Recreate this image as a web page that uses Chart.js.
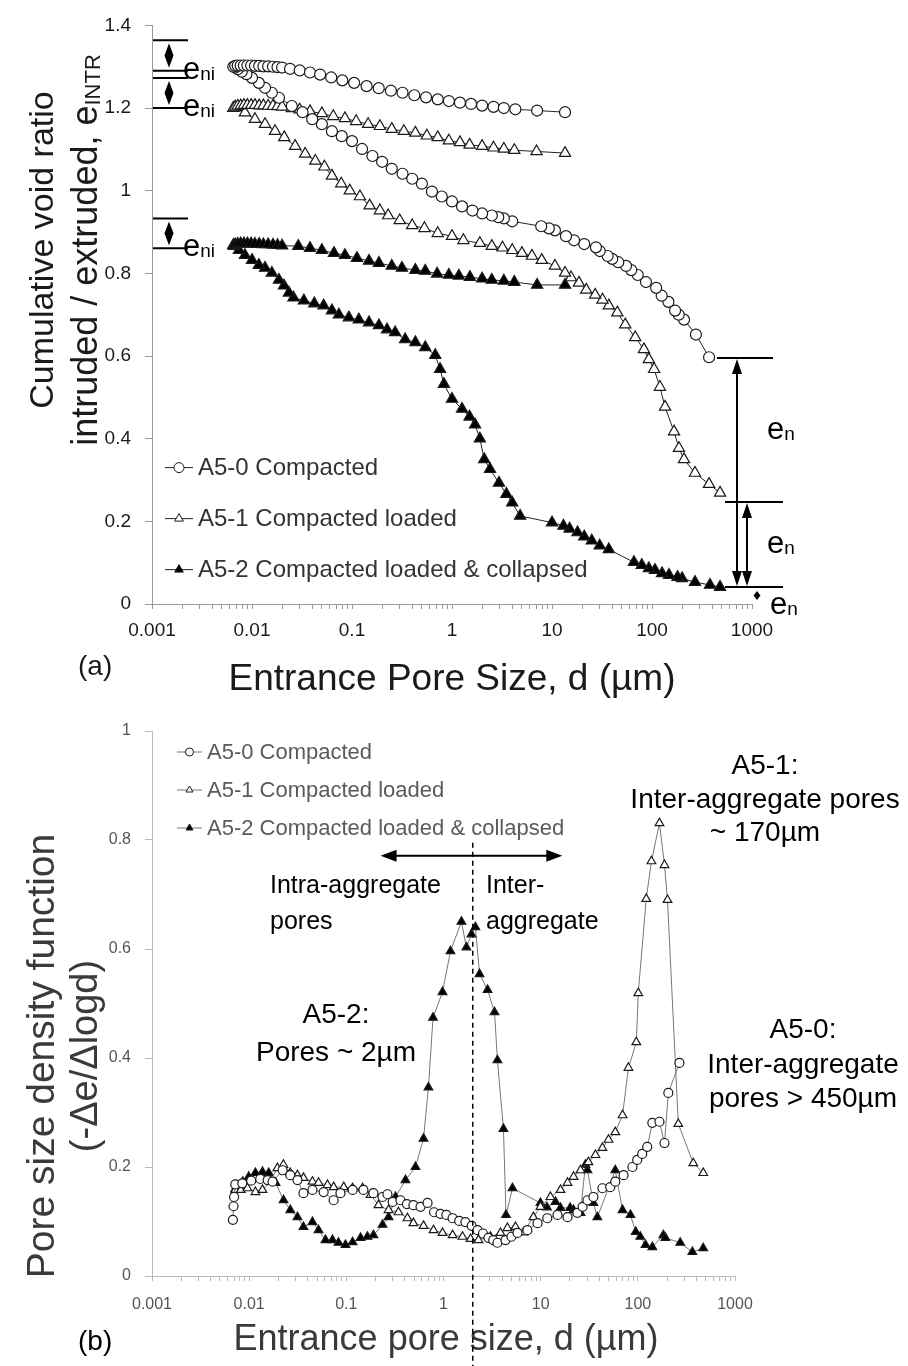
<!DOCTYPE html>
<html>
<head>
<meta charset="utf-8">
<script src="https://cdn.jsdelivr.net/npm/chart.js@4.4.1/dist/chart.umd.min.js"></script>
<style>
    body { margin: 0; background: #fff; }
    #wrap { position: relative; width: 908px; height: 1366px; overflow: hidden; }
    #topChart { position: absolute; left: 0; top: 0; }
    #bottomChart { position: absolute; left: 0; top: 700px; filter: blur(0.5px); }
    #bottomNotes { position: absolute; left: 0; top: 700px; pointer-events: none; }
</style>
</head>
<body>
<div id="wrap">
    <canvas id="topChart" width="908" height="700"></canvas>
    <canvas id="bottomChart" width="908" height="666"></canvas>
    <canvas id="bottomNotes" width="908" height="666"></canvas>
</div>
<script>
const FONT = '"Liberation Sans", Arial, sans-serif';

const seriesNames = ['A5-0 Compacted', 'A5-1 Compacted loaded', 'A5-2 Compacted loaded & collapsed'];
const decadeTicks = [0.001, 0.01, 0.1, 1, 10, 100, 1000];
const decadeLabels = ['0.001', '0.01', '0.1', '1', '10', '100', '1000'];
const voidTicks = [0, 0.2, 0.4, 0.6, 0.8, 1, 1.2, 1.4];
const voidLabels = ['0', '0.2', '0.4', '0.6', '0.8', '1', '1.2', '1.4'];
const densityTicks = [0, 0.2, 0.4, 0.6, 0.8, 1];
const densityLabels = ['0', '0.2', '0.4', '0.6', '0.8', '1'];

// (a) cumulative void ratio: intrusion (large d -> small d), then extrusion back out
const a50D = [372, 275, 209, 185, 170, 146, 125, 110, 87, 72, 62, 55, 46, 40, 36, 30, 27.5, 21, 16.6, 13.8, 10.7, 9.3, 7.8,
    4.0, 3.3, 2.9, 2.5, 2.0, 1.6, 1.26, 1.0, 0.79, 0.63, 0.5, 0.4, 0.32, 0.25, 0.2, 0.16, 0.126, 0.1, 0.079, 0.063, 0.05,
    0.04, 0.032, 0.025, 0.0186, 0.0158, 0.0135, 0.0117, 0.01, 0.0088, 0.0079, 0.0072, 0.0068, 0.0065,
    0.0068, 0.0072, 0.0077, 0.0083, 0.009, 0.0098, 0.0107, 0.0118, 0.013, 0.0145, 0.0162, 0.018, 0.02, 0.024, 0.03,
    0.038, 0.048, 0.062, 0.08, 0.105, 0.14, 0.185, 0.245, 0.32, 0.42, 0.55, 0.72, 0.93, 1.2, 1.55, 2.0, 2.6, 3.3, 4.3, 7.1, 13.5];
const a50E = [0.597, 0.652, 0.688, 0.700, 0.710, 0.731, 0.746, 0.765, 0.779, 0.796, 0.808, 0.818, 0.827, 0.835, 0.842, 0.854,
    0.863, 0.871, 0.880, 0.890, 0.904, 0.909, 0.914, 0.926, 0.933, 0.936, 0.940, 0.945, 0.952, 0.962, 0.974, 0.986, 0.998,
    1.017, 1.029, 1.041, 1.053, 1.070, 1.084, 1.101, 1.120, 1.132, 1.144, 1.161, 1.173, 1.190, 1.205, 1.225, 1.237, 1.249,
    1.261, 1.273, 1.282, 1.288, 1.294, 1.298, 1.300,
    1.302, 1.303, 1.303, 1.303, 1.303, 1.303, 1.302, 1.302, 1.301, 1.301, 1.300, 1.299, 1.298, 1.295, 1.291, 1.286, 1.281,
    1.274, 1.267, 1.261, 1.253, 1.248, 1.242, 1.237, 1.231, 1.226, 1.221, 1.217, 1.213, 1.210, 1.206, 1.203, 1.200, 1.197,
    1.194, 1.190];

const a51D = [479, 372, 269, 209, 186, 166, 135, 120, 105, 93, 83, 68, 54, 45, 37, 32, 27, 22, 18.6, 15.5, 13.5, 10.7, 7.9,
    6.3, 5.0, 4.0, 3.2, 2.5, 1.9, 1.3, 1.0, 0.72, 0.53, 0.4, 0.3, 0.23, 0.19, 0.15, 0.12, 0.095, 0.078, 0.063, 0.053, 0.043,
    0.034, 0.027, 0.021, 0.017, 0.0135, 0.0107, 0.0085, 0.0068, 0.0065,
    0.0068, 0.0072, 0.0077, 0.0083, 0.009, 0.0098, 0.0107, 0.0118, 0.013, 0.0145, 0.0162, 0.018, 0.02, 0.025, 0.03, 0.038,
    0.05, 0.065, 0.085, 0.11, 0.145, 0.19, 0.25, 0.33, 0.43, 0.56, 0.72, 0.93, 1.2, 1.5, 2.0, 2.6, 3.3, 4.2, 7.0, 13.5];
const a51E = [0.269, 0.290, 0.317, 0.350, 0.377, 0.417, 0.477, 0.525, 0.568, 0.592, 0.616, 0.645, 0.676, 0.705, 0.722, 0.736,
    0.748, 0.760, 0.777, 0.790, 0.801, 0.818, 0.832, 0.842, 0.849, 0.856, 0.862, 0.866, 0.873, 0.880, 0.890, 0.897, 0.909,
    0.916, 0.928, 0.940, 0.952, 0.964, 0.986, 1.000, 1.017, 1.036, 1.058, 1.072, 1.089, 1.108, 1.129, 1.144, 1.161, 1.173,
    1.189, 1.201, 1.200,
    1.203, 1.205, 1.206, 1.207, 1.207, 1.207, 1.207, 1.206, 1.206, 1.205, 1.205, 1.204, 1.203, 1.199, 1.196, 1.192, 1.187,
    1.180, 1.175, 1.168, 1.161, 1.156, 1.149, 1.144, 1.140, 1.133, 1.129, 1.121, 1.117, 1.111, 1.108, 1.104, 1.101, 1.098,
    1.095, 1.091];

const a52D = [479, 380, 269, 200, 180, 148, 126, 107, 93, 79, 66, 37, 30, 25, 21, 18, 15, 13, 10, 4.8, 4.0, 3.5, 2.95, 2.4,
    2.1, 1.9, 1.7, 1.5, 1.26, 1.0, 0.83, 0.76, 0.68, 0.54, 0.43, 0.34, 0.27, 0.224, 0.186, 0.148, 0.117, 0.093, 0.074, 0.063,
    0.052, 0.042, 0.033, 0.026, 0.0234, 0.0209, 0.0186, 0.0158, 0.0135, 0.0117, 0.01, 0.0085, 0.0074, 0.0066, 0.0065,
    0.0068, 0.0072, 0.0077, 0.0083, 0.009, 0.0098, 0.0107, 0.0118, 0.013, 0.0145, 0.0162, 0.018, 0.02, 0.029, 0.038, 0.05,
    0.066, 0.085, 0.112, 0.148, 0.186, 0.25, 0.316, 0.43, 0.54, 0.71, 0.93, 1.17, 1.51, 2.0, 2.5, 3.3, 4.2, 7.1, 13.5];
const a52E = [0.041, 0.046, 0.053, 0.062, 0.065, 0.070, 0.074, 0.082, 0.086, 0.094, 0.101, 0.132, 0.141, 0.153, 0.163, 0.173,
    0.182, 0.189, 0.197, 0.213, 0.245, 0.266, 0.293, 0.326, 0.350, 0.400, 0.434, 0.453, 0.472, 0.496, 0.532, 0.568, 0.602,
    0.621, 0.633, 0.640, 0.657, 0.664, 0.674, 0.681, 0.688, 0.693, 0.700, 0.710, 0.722, 0.727, 0.734, 0.741, 0.753, 0.770,
    0.784, 0.801, 0.813, 0.820, 0.832, 0.844, 0.856, 0.866, 0.868,
    0.870, 0.871, 0.872, 0.872, 0.872, 0.872, 0.871, 0.871, 0.870, 0.870, 0.869, 0.868, 0.867, 0.866, 0.861, 0.856, 0.849,
    0.844, 0.837, 0.830, 0.825, 0.818, 0.813, 0.808, 0.806, 0.799, 0.796, 0.794, 0.791, 0.787, 0.784, 0.782, 0.779, 0.772,
    0.772];

// (b) pore size density function
const b50D = [0.0068, 0.0069, 0.0070, 0.0072, 0.0085, 0.0105, 0.013, 0.0155, 0.0174, 0.0221, 0.0265, 0.0314, 0.0362, 0.0448,
    0.0584, 0.074, 0.087, 0.116, 0.150, 0.19, 0.236, 0.265, 0.30, 0.361, 0.42, 0.49, 0.58, 0.685, 0.80, 0.93, 1.07, 1.24,
    1.45, 1.68, 1.95, 2.24, 2.55, 2.9, 3.25, 3.59, 4.34, 5.0, 5.77, 7.3, 9.28, 11.7, 14.9, 18.9, 23.9, 27, 30.3, 34.9, 43.2,
    52, 58.6, 71.3, 88, 98.6, 111, 125, 141, 167, 188, 206, 268];
const b50E = [0.103, 0.128, 0.145, 0.168, 0.170, 0.175, 0.178, 0.176, 0.173, 0.194, 0.185, 0.176, 0.152, 0.158, 0.154, 0.139,
    0.152, 0.158, 0.158, 0.152, 0.145, 0.150, 0.136, 0.139, 0.132, 0.130, 0.127, 0.134, 0.117, 0.114, 0.112, 0.106, 0.101,
    0.099, 0.092, 0.084, 0.078, 0.070, 0.066, 0.061, 0.066, 0.072, 0.079, 0.084, 0.097, 0.106, 0.112, 0.108, 0.116, 0.127,
    0.139, 0.145, 0.161, 0.163, 0.173, 0.185, 0.200, 0.213, 0.224, 0.237, 0.281, 0.283, 0.244, 0.336, 0.391];

const b51D = [0.0072, 0.0082, 0.0096, 0.0116, 0.0137, 0.0166, 0.0195, 0.0225, 0.0265, 0.0314, 0.0362, 0.0448, 0.0518, 0.064,
    0.074, 0.094, 0.116, 0.147, 0.178, 0.214, 0.272, 0.344, 0.426, 0.49, 0.623, 0.789, 0.977, 1.24, 1.57, 1.9, 2.29, 3.04,
    3.86, 4.55, 5.5, 6.66, 8.42, 9.95, 12.6, 16, 18.9, 21.8, 25.7, 31, 36.6, 43.2, 49.9, 58.6, 69.6, 80, 96.5, 101, 122, 138,
    167, 188, 202, 261, 372, 471];
const b51E = [0.158, 0.158, 0.161, 0.154, 0.158, 0.173, 0.198, 0.204, 0.189, 0.185, 0.180, 0.173, 0.171, 0.167, 0.163, 0.163,
    0.161, 0.161, 0.149, 0.130, 0.121, 0.117, 0.106, 0.097, 0.092, 0.084, 0.079, 0.075, 0.072, 0.068, 0.066, 0.072, 0.079,
    0.088, 0.090, 0.080, 0.108, 0.127, 0.145, 0.158, 0.171, 0.182, 0.194, 0.209, 0.222, 0.235, 0.250, 0.264, 0.295, 0.382,
    0.429, 0.519, 0.692, 0.761, 0.831, 0.754, 0.690, 0.279, 0.207, 0.189];

const b52D = [0.0072, 0.0086, 0.0099, 0.0116, 0.0137, 0.0159, 0.0187, 0.0226, 0.0265, 0.0314, 0.0362, 0.0448, 0.0518, 0.061,
    0.072, 0.083, 0.098, 0.116, 0.140, 0.165, 0.19, 0.236, 0.272, 0.321, 0.406, 0.515, 0.623, 0.70, 0.78, 0.977, 1.18, 1.53,
    1.72, 1.94, 2.13, 2.35, 2.84, 3.35, 3.59, 4.14, 4.40, 5.13, 9.95, 11.6, 14.2, 16, 20.1, 21.8, 25.7, 28.9, 30.3, 34.9,
    38.3, 58.6, 69.6, 84, 95, 106, 120, 141, 183, 192, 273, 364, 471];
const b52E = [0.160, 0.173, 0.182, 0.189, 0.191, 0.189, 0.171, 0.139, 0.121, 0.108, 0.090, 0.099, 0.084, 0.066, 0.066, 0.061,
    0.057, 0.062, 0.070, 0.072, 0.075, 0.094, 0.108, 0.145, 0.176, 0.200, 0.252, 0.346, 0.474, 0.521, 0.596, 0.650, 0.603,
    0.627, 0.640, 0.554, 0.525, 0.484, 0.396, 0.270, 0.112, 0.161, 0.134, 0.126, 0.136, 0.125, 0.125, 0.121, 0.116, 0.204,
    0.194, 0.134, 0.108, 0.194, 0.121, 0.112, 0.081, 0.072, 0.057, 0.053, 0.075, 0.070, 0.061, 0.044, 0.051];

// e_ni brackets at the start of intrusion, e_n brackets at the end
const eniLevels = [[1.364, 1.290], [1.273, 1.200], [0.933, 0.861]];
const enLevels = [0.595, 0.247, 0.041];

function points(d, e) {
    return d.map(function (v, i) { return { x: v, y: e[i] }; });
}

function makeDataset(label, d, e, style, filled, radius, lineColor) {
    return {
        label: label,
        data: points(d, e),
        showLine: true,
        borderColor: lineColor,
        borderWidth: 1,
        pointStyle: style,
        pointRadius: radius,
        pointBorderWidth: 1.2,
        pointBorderColor: '#1a1a1a',
        pointBackgroundColor: filled ? '#000' : '#fff',
        pointHoverRadius: radius
    };
}

function logAxis(height, fontSize, color, lineColor, pad) {
    return {
        type: 'logarithmic',
        min: 0.001,
        max: 1000,
        afterBuildTicks: function (scale) {
            const ticks = [];
            decadeTicks.forEach(function (v, i) {
                if (i === decadeTicks.length - 1) {
                    ticks.push({ value: v });
                    return;
                }
                for (let m = 1; m < 10; m++) {
                    ticks.push({ value: +(v * m).toPrecision(3) });
                }
            });
            scale.ticks = ticks;
        },
        afterFit: function (scale) { scale.height = height; },
        ticks: {
            autoSkip: false,
            maxRotation: 0,
            padding: pad,
            color: color,
            font: { family: FONT, size: fontSize },
            callback: function (value) {
                const i = decadeTicks.indexOf(value);
                return i === -1 ? '' : decadeLabels[i];
            }
        },
        grid: { drawOnChartArea: false, tickLength: 5, color: lineColor },
        border: { color: lineColor, width: 1 }
    };
}

function linearAxis(max, tickValues, tickLabels, fontSize, color, lineColor) {
    return {
        min: 0,
        max: max,
        afterBuildTicks: function (scale) {
            scale.ticks = tickValues.map(function (v) { return { value: v }; });
        },
        afterFit: function (scale) { scale.width = 152; },
        ticks: {
            padding: 14,
            color: color,
            font: { family: FONT, size: fontSize },
            callback: function (value, index) { return tickLabels[index]; }
        },
        grid: { drawOnChartArea: false, tickLength: 7, color: lineColor },
        border: { color: lineColor, width: 1 }
    };
}

function drawMarker(ctx, style, x, y, r, fill, stroke) {
    ctx.beginPath();
    if (style === 'circle') {
        ctx.arc(x, y, r, 0, Math.PI * 2);
    } else {
        let rad = 0;
        ctx.moveTo(x + Math.sin(rad) * r, y - Math.cos(rad) * r);
        rad += Math.PI * 2 / 3;
        ctx.lineTo(x + Math.sin(rad) * r, y - Math.cos(rad) * r);
        rad += Math.PI * 2 / 3;
        ctx.lineTo(x + Math.sin(rad) * r, y - Math.cos(rad) * r);
        ctx.closePath();
    }
    ctx.fillStyle = fill;
    ctx.fill();
    ctx.lineWidth = 1;
    ctx.strokeStyle = stroke;
    ctx.stroke();
}

function drawLegend(ctx, chart, x, y, rowGap, lineLen, r, size, color) {
    chart.data.datasets.forEach(function (ds, i) {
        const cy = y + i * rowGap;
        ctx.strokeStyle = ds.borderColor;
        ctx.lineWidth = 1;
        ctx.beginPath();
        ctx.moveTo(x, cy);
        ctx.lineTo(x + lineLen, cy);
        ctx.stroke();
        drawMarker(ctx, ds.pointStyle, x + lineLen / 2, cy, r, ds.pointBackgroundColor, ds.pointBorderColor);
        ctx.fillStyle = color;
        ctx.font = size + 'px ' + FONT;
        ctx.textAlign = 'left';
        ctx.textBaseline = 'middle';
        ctx.fillText(ds.label, x + lineLen + 5, cy + 1);
    });
}

// text with a subscript tail, e.g. e_ni
function subText(ctx, x, y, main, sub, size, subSize, align, subDrop) {
    ctx.font = size + 'px ' + FONT;
    const w1 = ctx.measureText(main).width;
    ctx.font = subSize + 'px ' + FONT;
    const w2 = ctx.measureText(sub).width;
    const x0 = align === 'center' ? x - (w1 + w2) / 2 : x;
    ctx.textAlign = 'left';
    ctx.font = size + 'px ' + FONT;
    ctx.fillText(main, x0, y);
    ctx.font = subSize + 'px ' + FONT;
    ctx.fillText(sub, x0 + w1, y + subDrop);
}

function text(ctx, str, x, y, size, align, color) {
    ctx.font = size + 'px ' + FONT;
    ctx.textAlign = align;
    ctx.fillStyle = color;
    ctx.fillText(str, x, y);
}

function arrowHead(ctx, x, y, dx, dy, len, half) {
    // tip at (x, y), pointing along (dx, dy)
    ctx.beginPath();
    ctx.moveTo(x, y);
    ctx.lineTo(x - dx * len - dy * half, y - dy * len + dx * half);
    ctx.lineTo(x - dx * len + dy * half, y - dy * len - dx * half);
    ctx.closePath();
    ctx.fill();
}

function diamond(ctx, x, yTop, yBottom, half) {
    const mid = (yTop + yBottom) / 2;
    ctx.beginPath();
    ctx.moveTo(x, yTop);
    ctx.lineTo(x + half, mid);
    ctx.lineTo(x, yBottom);
    ctx.lineTo(x - half, mid);
    ctx.closePath();
    ctx.fill();
}

function hLine(ctx, x1, x2, y) {
    ctx.beginPath();
    ctx.moveTo(x1, y);
    ctx.lineTo(x2, y);
    ctx.stroke();
}

const topNotes = {
    id: 'topNotes',
    afterDraw: function (chart) {
        const ctx = chart.ctx;
        const ys = chart.scales.y;
        const area = chart.chartArea;
        ctx.save();

        drawLegend(ctx, chart, area.left + 13, ys.getPixelForValue(0.33), 51, 28, 5, 24, '#333');

        ctx.fillStyle = '#000';
        ctx.strokeStyle = '#000';
        ctx.lineWidth = 2;
        ctx.textBaseline = 'alphabetic';
        eniLevels.forEach(function (pair) {
            const yTop = ys.getPixelForValue(pair[0]);
            const yBot = ys.getPixelForValue(pair[1]);
            hLine(ctx, area.left + 1, area.left + 36, yTop);
            hLine(ctx, area.left + 1, area.left + 36, yBot);
            diamond(ctx, area.left + 17, yTop + 3, yBot - 3, 4.5);
            subText(ctx, area.left + 31, yBot + 8, 'e', 'ni', 31, 19, 'left', 1);
        });

        const yA = ys.getPixelForValue(enLevels[0]);
        const yB = ys.getPixelForValue(enLevels[1]);
        const yC = ys.getPixelForValue(enLevels[2]);
        hLine(ctx, area.right - 35, area.right + 21, yA);
        hLine(ctx, area.right - 27, area.right + 31, yB);
        hLine(ctx, area.right - 27, area.right + 31, yC);
        const ax1 = area.right - 15;
        const ax2 = area.right - 5;
        ctx.beginPath();
        ctx.moveTo(ax1, yA + 12);
        ctx.lineTo(ax1, yC - 12);
        ctx.moveTo(ax2, yB + 12);
        ctx.lineTo(ax2, yC - 12);
        ctx.stroke();
        arrowHead(ctx, ax1, yA + 1, 0, -1, 15, 5);
        arrowHead(ctx, ax1, yC - 1, 0, 1, 15, 5);
        arrowHead(ctx, ax2, yB + 1, 0, -1, 15, 5);
        arrowHead(ctx, ax2, yC - 1, 0, 1, 15, 5);
        diamond(ctx, area.right + 5, yC + 4, yC + 13, 3.5);
        subText(ctx, area.right + 15, (yA + yB) / 2 + 9, 'e', 'n', 31, 19, 'left', 1);
        subText(ctx, area.right + 15, (yB + yC) / 2 + 9, 'e', 'n', 31, 19, 'left', 1);
        subText(ctx, area.right + 18, yC + 27, 'e', 'n', 31, 19, 'left', 1);

        // axis titles
        ctx.textBaseline = 'middle';
        ctx.save();
        ctx.translate(44, 250);
        ctx.rotate(-Math.PI / 2);
        text(ctx, 'Cumulative void ratio', 0, 0, 34, 'center', '#1a1a1a');
        ctx.restore();
        ctx.save();
        ctx.translate(87, 250);
        ctx.rotate(-Math.PI / 2);
        ctx.fillStyle = '#1a1a1a';
        subText(ctx, 0, 0, 'intruded / extruded, e', 'INTR', 36, 22, 'center', 7);
        ctx.restore();

        ctx.textBaseline = 'alphabetic';
        text(ctx, 'Entrance Pore Size, d (µm)', 452, 690, 37, 'center', '#1a1a1a');
        text(ctx, '(a)', 78, 675, 28, 'left', '#1a1a1a');
        ctx.restore();
    }
};

const notesCtx = document.getElementById('bottomNotes').getContext('2d');

const bottomNotes = {
    id: 'bottomNotes',
    afterDraw: function (chart) {
        const ctx = chart.ctx;
        const xs = chart.scales.x;
        const ys = chart.scales.y;
        const area = chart.chartArea;
        ctx.save();
        drawLegend(ctx, chart, area.left + 25, area.top + 21, 38, 25, 4, 22, '#5a5a5a');

        ctx.textBaseline = 'middle';
        ctx.save();
        ctx.translate(43, 356);
        ctx.rotate(-Math.PI / 2);
        text(ctx, 'Pore size density function', 0, 0, 39, 'center', '#3a3a3a');
        text(ctx, '(-Δe/Δlogd)', 0, 44, 38, 'center', '#3a3a3a');
        ctx.restore();
        ctx.textBaseline = 'alphabetic';
        text(ctx, 'Entrance pore size, d (µm)', 446, 650, 36, 'center', '#3a3a3a');
        ctx.restore();

        // crisp notes on the overlay canvas
        const n = notesCtx;
        n.clearRect(0, 0, n.canvas.width, n.canvas.height);
        n.save();
        n.fillStyle = '#000';
        n.strokeStyle = '#000';
        n.textBaseline = 'alphabetic';

        const xSplit = xs.getPixelForValue(2);
        n.lineWidth = 1.5;
        n.setLineDash([5, 4]);
        n.beginPath();
        n.moveTo(xSplit, ys.getPixelForValue(0.795));
        n.lineTo(xSplit, n.canvas.height);
        n.stroke();
        n.setLineDash([]);

        const yArrow = ys.getPixelForValue(0.771);
        const xl = xs.getPixelForValue(0.225);
        const xr = xs.getPixelForValue(16.7);
        n.lineWidth = 2;
        hLine(n, xl + 10, xr - 10, yArrow);
        arrowHead(n, xl, yArrow, -1, 0, 16, 6);
        arrowHead(n, xr, yArrow, 1, 0, 16, 6);

        text(n, 'Intra-aggregate', 270, 193, 25, 'left', '#000');
        text(n, 'pores', 270, 229, 25, 'left', '#000');
        text(n, 'Inter-', 486, 193, 25, 'left', '#000');
        text(n, 'aggregate', 486, 229, 25, 'left', '#000');

        text(n, 'A5-1:', 765, 74, 28, 'center', '#000');
        text(n, 'Inter-aggregate pores', 765, 108, 28, 'center', '#000');
        text(n, '~ 170µm', 765, 141, 28, 'center', '#000');

        text(n, 'A5-2:', 336, 323, 28, 'center', '#000');
        text(n, 'Pores ~ 2µm', 336, 361, 28, 'center', '#000');

        text(n, 'A5-0:', 803, 338, 28, 'center', '#000');
        text(n, 'Inter-aggregate', 803, 373, 28, 'center', '#000');
        text(n, 'pores > 450µm', 803, 407, 28, 'center', '#000');

        text(n, '(b)', 78, 650, 28, 'left', '#000');
        n.restore();
    }
};

new Chart(document.getElementById('topChart'), {
    type: 'scatter',
    data: {
        datasets: [
            makeDataset(seriesNames[0], a50D, a50E, 'circle', false, 5.5, '#222'),
            makeDataset(seriesNames[1], a51D, a51E, 'triangle', false, 6.5, '#222'),
            makeDataset(seriesNames[2], a52D, a52E, 'triangle', true, 6.5, '#222')
        ]
    },
    options: {
        responsive: false,
        animation: false,
        devicePixelRatio: 1,
        layout: { padding: { top: 20, right: 156, left: 0, bottom: 0 } },
        plugins: { legend: { display: false }, tooltip: { enabled: false } },
        scales: {
            x: logAxis(96, 19, '#1a1a1a', '#999', 10),
            y: linearAxis(1.4, voidTicks, voidLabels, 19, '#1a1a1a', '#999')
        }
    },
    plugins: [topNotes]
});

new Chart(document.getElementById('bottomChart'), {
    type: 'scatter',
    data: {
        datasets: [
            makeDataset(seriesNames[0], b50D, b50E, 'circle', false, 4.5, '#777'),
            makeDataset(seriesNames[1], b51D, b51E, 'triangle', false, 5, '#777'),
            makeDataset(seriesNames[2], b52D, b52E, 'triangle', true, 5, '#777')
        ]
    },
    options: {
        responsive: false,
        animation: false,
        devicePixelRatio: 1,
        layout: { padding: { top: 31, right: 173, left: 0, bottom: 0 } },
        plugins: { legend: { display: false }, tooltip: { enabled: false } },
        scales: {
            x: logAxis(90, 16, '#555', '#bbb', 14),
            y: linearAxis(1, densityTicks, densityLabels, 16, '#555', '#bbb')
        }
    },
    plugins: [bottomNotes]
});
</script>
</body>
</html>
